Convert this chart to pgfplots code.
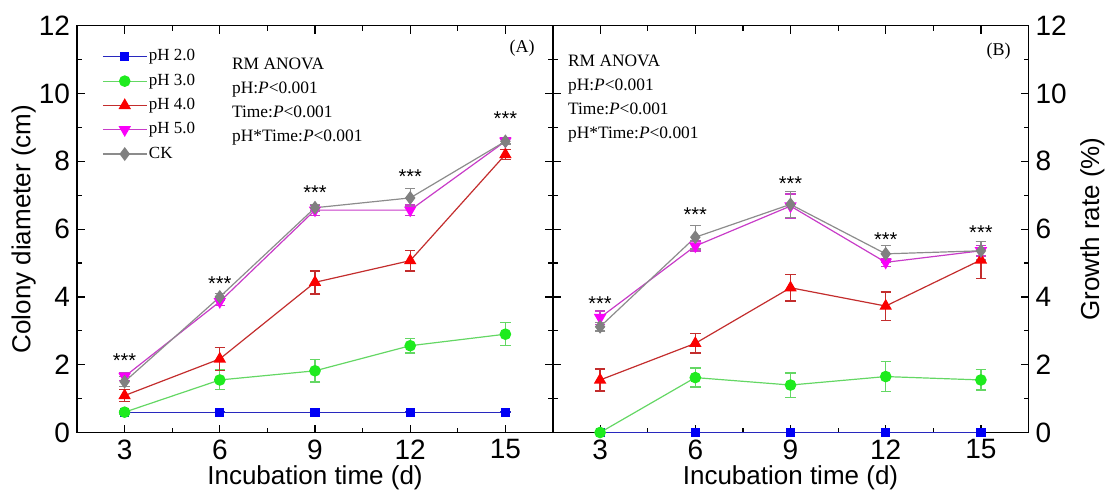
\documentclass[border=0pt]{standalone}
\usepackage{fontspec}
\setmainfont{Liberation Serif}
\setsansfont{Liberation Sans}
\usepackage{pgfplots}
\pgfplotsset{compat=1.18}

\definecolor{bluemk}{RGB}{0,0,245}
\definecolor{blueln}{RGB}{40,40,190}
\definecolor{greenmk}{RGB}{30,235,30}
\definecolor{greenln}{RGB}{100,215,100}
\definecolor{redmk}{RGB}{250,0,0}
\definecolor{redln}{RGB}{195,45,45}
\definecolor{magmk}{RGB}{250,0,250}
\definecolor{magln}{RGB}{200,60,200}
\definecolor{graymk}{RGB}{128,128,128}
\definecolor{grayln}{RGB}{140,140,140}

\tikzset{
  stars/.style={font=\sffamily\fontsize{10}{10}\selectfont, inner sep=0pt, anchor=center},
  anova/.style={font=\rmfamily\fontsize{8.7}{12}\selectfont, align=left, inner sep=0pt, anchor=north west},
}

\pgfplotsset{
  panel/.style={
    scale only axis, width=238pt, height=203.4pt,
    xmin=1.5, xmax=16.5, ymin=0, ymax=12,
    xtick={3,6,9,12,15}, ytick={0,2,...,12},
    minor x tick num=1, minor y tick num=1,
    tick align=inside, major tick length=4pt, minor tick length=2.5pt,
    axis line style={line width=0.7pt},
    every tick/.style={black, line width=0.6pt},
    tick label style={font=\sffamily\fontsize{14}{14}\selectfont},
    /pgf/number format/assume math mode=true,
    label style={font=\sffamily\fontsize{13}{13}\selectfont},
    xlabel={Incubation time (d)},
    xlabel style={at={(axis description cs:0.5,-0.112)}, anchor=center},
    error bars/y dir=both, error bars/y explicit,
    error bars/error bar style={line width=0.7pt},
    error bars/error mark options={rotate=90, mark size=2.6pt, line width=0.7pt},
  },
  s2/.style={blueln, line width=0.6pt, mark=square*, mark size=2pt, mark options={draw=bluemk, fill=bluemk}},
  s3/.style={greenln, line width=0.6pt, mark=*, mark size=2.6pt, mark options={draw=greenmk, fill=greenmk}},
  s4/.style={redln, line width=0.6pt, mark=triangle*, mark size=3pt, mark options={draw=redmk, fill=redmk}},
  s5/.style={magln, line width=0.6pt, mark=triangle*, mark size=3pt, mark options={draw=magmk, fill=magmk, rotate=180}},
  sck/.style={grayln, line width=0.6pt, mark=diamond*, mark size=3pt, mark options={draw=graymk, fill=graymk}},
}

\begin{document}
\begin{tikzpicture}
\useasboundingbox (0,0) rectangle (554.5pt,250pt);

% (A) colony diameter
\begin{axis}[panel, at={(38.5pt,33.75pt)}, anchor=south west,
  ylabel={Colony diameter (cm)},
  ylabel style={at={(axis description cs:-0.112,0.5)}, anchor=center},
  legend style={draw=none, fill=none, at={(rel axis cs:0.052,0.946)}, anchor=north west,
    font=\rmfamily\fontsize{8.5}{8.5}\selectfont, row sep=3.4pt, inner sep=0pt,
    nodes={inner sep=0.8pt}},
  legend cell align=left,
  legend image code/.code={\draw[mark repeat=2, mark phase=2, #1] plot coordinates {(0pt,0pt) (11pt,0pt) (22pt,0pt)};},
]
\addplot[s2] coordinates {(3,0.6) +- (0,0) (6,0.6) +- (0,0) (9,0.6) +- (0,0) (12,0.6) +- (0,0) (15,0.6) +- (0,0)};
\addplot[s3] coordinates {(3,0.6) +- (0,0.05) (6,1.55) +- (0,0.29) (9,1.82) +- (0,0.33) (12,2.56) +- (0,0.22) (15,2.90) +- (0,0.34)};
\addplot[s4] coordinates {(3,1.09) +- (0,0.17) (6,2.17) +- (0,0.34) (9,4.43) +- (0,0.34) (12,5.07) +- (0,0.30) (15,8.20) +- (0,0.15)};
\addplot[s5] coordinates {(3,1.65) +- (0,0.12) (6,3.86) +- (0,0.12) (9,6.56) +- (0,0.15) (12,6.56) +- (0,0.15) (15,8.59) +- (0,0.10)};
\addplot[sck] coordinates {(3,1.50) +- (0,0.15) (6,4.00) +- (0,0.10) (9,6.63) +- (0,0.10) (12,6.92) +- (0,0.27) (15,8.59) +- (0,0.08)};
\legend{pH 2.0, pH 3.0, pH 4.0, pH 5.0, CK}
\node[stars] at (axis cs:3,2.12) {***};
\node[stars] at (axis cs:6,4.38) {***};
\node[stars] at (axis cs:9,7.07) {***};
\node[stars] at (axis cs:12,7.56) {***};
\node[stars] at (axis cs:15,9.25) {***};
\node[anova] at (rel axis cs:0.325,0.922) {RM ANOVA\\pH:\textit{P}<0.001\\Time:\textit{P}<0.001\\pH*Time:\textit{P}<0.001};
\node[font=\rmfamily\fontsize{9}{9}\selectfont, inner sep=0pt] at (rel axis cs:0.935,0.944) {(A)};
\end{axis}

% (B) growth rate
\begin{axis}[panel, at={(276.25pt,33.75pt)}, anchor=south west,
  yticklabel pos=right,
  ylabel={Growth rate (\%)},
  ylabel style={at={(axis description cs:1.134,0.5)}, anchor=center},
]
\addplot[s2] coordinates {(3,0) +- (0,0) (6,0) +- (0,0) (9,0) +- (0,0) (12,0) +- (0,0) (15,0) +- (0,0)};
\addplot[s3] coordinates {(3,0) +- (0,0) (6,1.62) +- (0,0.28) (9,1.40) +- (0,0.36) (12,1.65) +- (0,0.44) (15,1.55) +- (0,0.30)};
\addplot[s4] coordinates {(3,1.55) +- (0,0.32) (6,2.63) +- (0,0.29) (9,4.27) +- (0,0.39) (12,3.73) +- (0,0.42) (15,5.09) +- (0,0.55)};
\addplot[s5] coordinates {(3,3.39) +- (0,0.20) (6,5.50) +- (0,0.15) (9,6.68) +- (0,0.35) (12,5.02) +- (0,0.12) (15,5.36) +- (0,0.15)};
\addplot[sck] coordinates {(3,3.12) +- (0,0.12) (6,5.76) +- (0,0.35) (9,6.73) +- (0,0.38) (12,5.27) +- (0,0.25) (15,5.36) +- (0,0.27)};
\node[stars] at (axis cs:3,3.81) {***};
\node[stars] at (axis cs:6,6.44) {***};
\node[stars] at (axis cs:9,7.34) {***};
\node[stars] at (axis cs:12,5.70) {***};
\node[stars] at (axis cs:15,5.89) {***};
\node[anova] at (rel axis cs:0.032,0.930) {RM ANOVA\\pH:\textit{P}<0.001\\Time:\textit{P}<0.001\\pH*Time:\textit{P}<0.001};
\node[font=\rmfamily\fontsize{9}{9}\selectfont, inner sep=0pt] at (rel axis cs:0.937,0.938) {(B)};
\end{axis}
\end{tikzpicture}
\end{document}
